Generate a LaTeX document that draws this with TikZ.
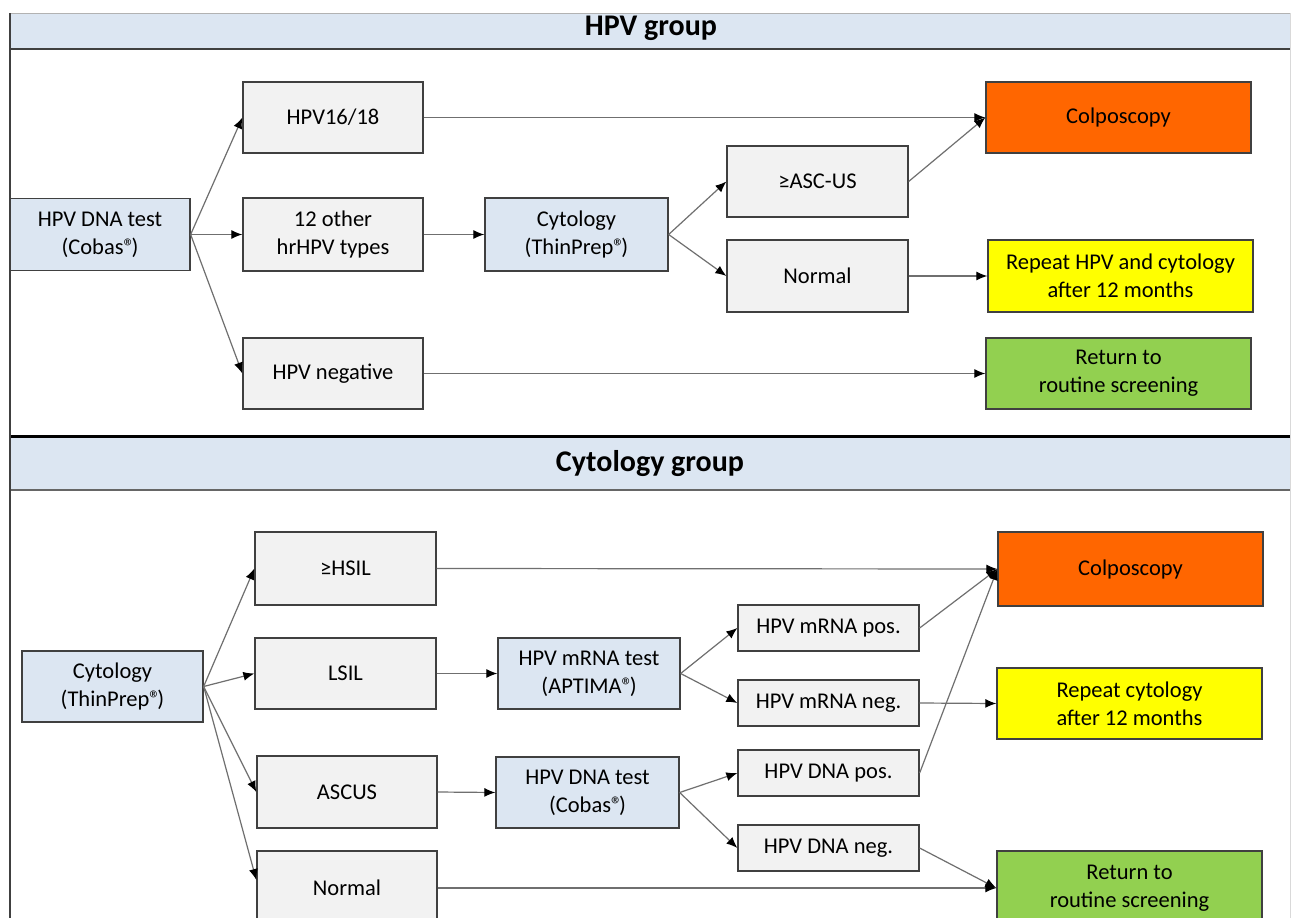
\documentclass[tikz,border=0pt]{standalone}
\usepackage{fontspec}
\setmainfont{Carlito}
\usetikzlibrary{arrows.meta}
\newcommand{\myreg}{®\kern-0.15em}
\definecolor{hdrblue}{HTML}{DCE6F2}
\definecolor{boxgrey}{HTML}{F2F2F2}
\definecolor{boxline}{HTML}{404040}
\definecolor{orangebox}{HTML}{FF6600}
\definecolor{yellowbox}{HTML}{FFFF00}
\definecolor{greenbox}{HTML}{92D050}
\definecolor{arrline}{HTML}{6F6F6F}
\tikzset{
  base/.style={draw=boxline, line width=1.3pt, inner sep=0pt, align=center,
    font=\fontsize{22.5}{28}\selectfont, text=black},
  gbox/.style={base, fill=boxgrey},
  bbox/.style={base, fill=hdrblue},
  obox/.style={base, fill=orangebox},
  ybox/.style={base, fill=yellowbox},
  grbox/.style={base, fill=greenbox},
  arr/.style={draw=arrline, line width=1.2pt, -{Latex[length=11pt,width=9pt,color=black]}},
  hdr/.style={font=\bfseries\fontsize{30}{34}\selectfont, text=black}
}
\begin{document}
\begin{tikzpicture}[x=1pt,y=-1pt]
\useasboundingbox (0,0) rectangle (1296,918);
\clip (0,0) rectangle (1296,918);
\fill[white] (0,0) rectangle (1296,918);
% header bands
\fill[hdrblue] (10,13) rectangle (1290,49);
\draw[black!30, line width=1pt] (10,13) -- (1290,13);
\draw[boxline, line width=2.2pt] (10,49) -- (1290,49);
\node[hdr] (h1) at (651,28) {HPV group};
\fill[hdrblue] (10,437) rectangle (1290,490);
\draw[black, line width=3pt] (10,436) -- (1290,436);
\draw[boxline!80, line width=2pt] (10,490) -- (1290,490);
\node[hdr] (h2) at (650,464) {Cytology group};
\draw[boxline, line width=2pt] (10,13) -- (10,918);
\draw[black!15, line width=1pt] (1290,13) -- (1290,918);

% ---------- HPV group ----------
\node[bbox, minimum width=180pt, minimum height=72pt] (dna1) at (100,234.5) {HPV DNA test\\(Cobas\myreg)};
\node[gbox, minimum width=180pt, minimum height=71pt] (h1618) at (333,117.5) {HPV16/18};
\node[gbox, minimum width=180pt, minimum height=73pt] (oth) at (333,234.5) {12 other\\hrHPV types};
\node[gbox, minimum width=180pt, minimum height=71pt] (hneg) at (333,373.5) {HPV negative};
\node[bbox, minimum width=183pt, minimum height=73pt] (cyt1) at (576.5,234.5) {Cytology\\(ThinPrep\myreg)};
\node[gbox, minimum width=181pt, minimum height=71pt] (asc1) at (817.5,181.5) {≥ASC-US};
\node[gbox, minimum width=181pt, minimum height=72pt] (nor1) at (817.5,276) {Normal};
\node[obox, minimum width=265pt, minimum height=71pt] (col1) at (1118.5,117.5) {Colposcopy};
\node[ybox, minimum width=265pt, minimum height=72pt] (rep1) at (1120.5,276) {Repeat HPV and cytology\\after 12 months};
\node[grbox, minimum width=265pt, minimum height=71pt] (ret1) at (1118.5,373.5) {Return to\\routine screening};

\draw[arr] (dna1.east) -- (h1618.west);
\draw[arr] (dna1.east) -- (oth.west);
\draw[arr] (dna1.east) -- (hneg.west);
\draw[arr] (oth.east) -- (cyt1.west);
\draw[arr] (cyt1.east) -- (asc1.west);
\draw[arr] (cyt1.east) -- (nor1.west);
\draw[arr] (h1618.east) -- (col1.west);
\draw[arr] (asc1.east) -- (col1.west);
\draw[arr] (nor1.east) -- (rep1.west);
\draw[arr] (hneg.east) -- (ret1.west);

% ---------- Cytology group ----------
\node[bbox, minimum width=181pt, minimum height=71pt] (cyt2) at (112.5,686.5) {Cytology\\(ThinPrep\myreg)};
\node[gbox, minimum width=181pt, minimum height=73pt] (hsil) at (345.5,568.5) {≥HSIL};
\node[gbox, minimum width=181pt, minimum height=71pt] (lsil) at (345.5,673.5) {LSIL};
\node[gbox, minimum width=180pt, minimum height=72pt] (asc2) at (347,792) {ASCUS};
\node[gbox, minimum width=180pt, minimum height=74pt] (nor2) at (347,888) {Normal};
\node[bbox, minimum width=182pt, minimum height=71pt] (mrna) at (589,673.5) {HPV mRNA test\\(APTIMA\myreg)};
\node[bbox, minimum width=183pt, minimum height=71pt] (dna2) at (587.5,792.5) {HPV DNA test\\(Cobas\myreg)};
\node[gbox, minimum width=181pt, minimum height=46pt] (mpos) at (828.5,628) {HPV mRNA pos.};
\node[gbox, minimum width=181pt, minimum height=46pt] (mneg) at (828.5,703) {HPV mRNA neg.};
\node[gbox, minimum width=181pt, minimum height=46pt] (dpos) at (828.5,773) {HPV DNA pos.};
\node[gbox, minimum width=181pt, minimum height=46pt] (dneg) at (828.5,848) {HPV DNA neg.};
\node[obox, minimum width=265pt, minimum height=74pt] (col2) at (1130.5,569) {Colposcopy};
\node[ybox, minimum width=265pt, minimum height=71pt] (rep2) at (1129.5,703.5) {Repeat cytology\\after 12 months};
\node[grbox, minimum width=265pt, minimum height=74pt] (ret2) at (1129.5,888) {Return to\\routine screening};

\draw[arr] (cyt2.east) -- (hsil.west);
\draw[arr] (cyt2.east) -- (lsil.west);
\draw[arr] (cyt2.east) -- (asc2.west);
\draw[arr] (cyt2.east) -- ([yshift=8pt]nor2.west);
\draw[arr] (hsil.east) -- (col2.west);
\draw[arr] (lsil.east) -- (mrna.west);
\draw[arr] (asc2.east) -- (dna2.west);
\draw[arr] (mrna.east) -- (mpos.west);
\draw[arr] (mrna.east) -- (mneg.west);
\draw[arr] (dna2.east) -- (dpos.west);
\draw[arr] (dna2.east) -- (dneg.west);
\draw[arr] (mpos.east) -- (col2.west);
\draw[arr] (dpos.east) -- (col2.west);
\draw[arr] (mneg.east) -- (rep2.west);
\draw[arr] (dneg.east) -- (ret2.west);
\draw[arr] (nor2.east) -- (ret2.west);
\end{tikzpicture}
\end{document}
